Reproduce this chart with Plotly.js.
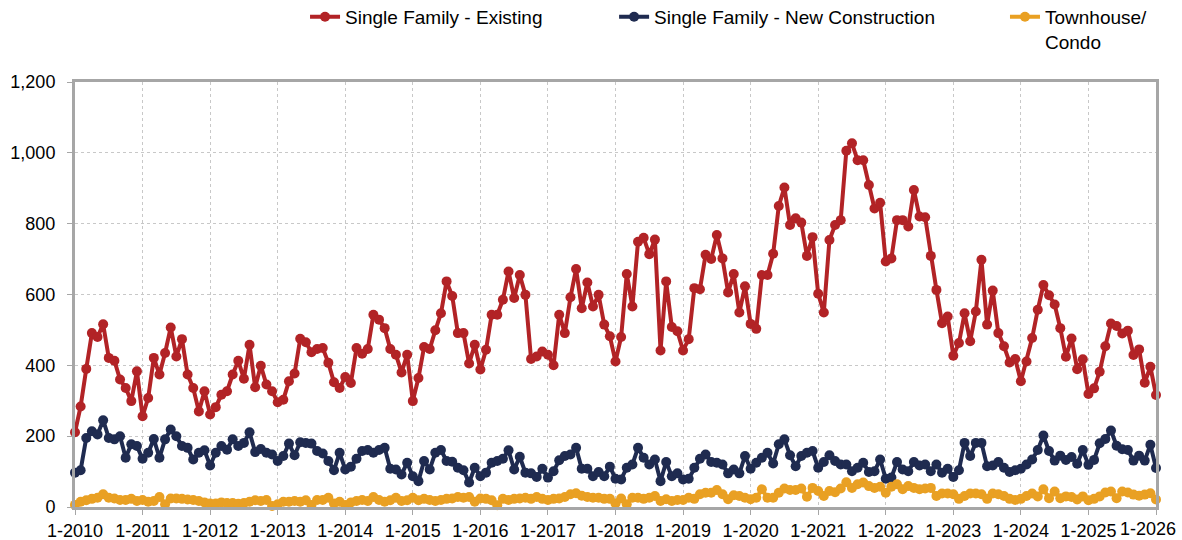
<!DOCTYPE html>
<html>
<head>
<meta charset="utf-8">
<script src="https://cdn.plot.ly/plotly-3.0.1.min.js"></script>
<style>html,body{margin:0;padding:0;background:#fff;}#chart{width:1182px;height:540px;}</style>
</head>
<body>
<div id="chart"></div>
<script>
const seriesNames = ["Single Family - Existing", "Single Family - New Construction", "Townhouse/<br>Condo"];
const tickLabels = ["1-2010","1-2011","1-2012","1-2013","1-2014","1-2015","1-2016","1-2017","1-2018","1-2019","1-2020","1-2021","1-2022","1-2023","1-2024","1-2025","1-2026"];

const existing = [
  211,284,390,491,480,516,421,413,360,336,299,383,
  256,308,421,374,435,507,425,474,374,336,270,327,
  261,282,317,327,374,413,362,458,338,399,346,327,
  296,303,355,377,475,465,437,446,449,407,352,336,
  367,350,449,433,446,543,529,505,446,430,380,430,
  299,364,452,446,499,547,637,596,491,491,405,458,
  388,444,543,543,585,665,590,655,599,418,425,439,
  430,400,543,491,592,672,561,634,566,599,515,482,
  411,480,658,566,749,760,714,755,442,637,508,496,
  442,474,618,615,712,700,768,702,606,658,549,623,
  517,503,655,655,715,850,902,796,815,803,709,762,
  602,549,754,796,810,1006,1027,979,979,909,843,859,
  693,702,810,810,792,895,820,818,709,613,519,538,
  427,463,547,468,552,698,515,611,491,454,408,418,
  355,411,477,557,627,598,572,505,424,476,389,417,
  319,335,382,454,518,511,490,498,429,445,351,396,
  316
];
const newConstruction = [
  97,104,195,214,205,245,195,191,200,139,177,172,
  136,153,192,139,191,219,200,172,167,134,153,160,
  117,153,172,162,191,172,181,211,155,164,153,148,
  130,144,179,146,183,181,179,158,151,130,104,153,
  106,114,136,158,161,153,161,167,108,106,92,125,
  87,73,130,106,153,161,130,128,111,104,69,111,
  87,97,125,130,136,160,106,142,97,95,85,108,
  83,101,132,144,148,167,108,108,87,99,87,114,
  80,78,111,120,167,139,120,134,73,127,87,95,
  78,80,111,136,148,127,125,120,95,106,95,144,
  108,125,139,153,123,177,191,146,115,144,153,158,
  111,127,146,130,120,120,101,111,125,99,101,134,
  80,83,127,106,101,127,117,120,101,120,97,108,
  85,104,181,144,181,181,115,117,127,111,99,104,
  108,120,134,161,202,158,131,145,133,141,122,161,
  119,133,180,192,216,173,163,161,131,145,131,176,
  110
];
const townhouse = [
  6,15,19,23,26,36,26,24,20,20,23,17,
  20,15,17,28,8,24,24,23,21,20,17,13,
  10,10,13,11,11,9,11,15,19,17,20,3,
  8,15,15,17,15,19,6,20,20,26,10,15,
  6,13,17,20,17,28,20,15,19,26,17,19,
  26,19,23,20,17,20,23,24,28,26,28,15,
  24,23,19,5,23,20,23,24,26,23,28,23,
  20,23,24,28,36,39,32,28,26,26,23,23,
  10,24,8,26,26,23,26,31,17,22,17,20,
  20,26,23,36,40,40,48,36,22,33,31,26,
  22,26,50,26,26,40,52,48,48,52,29,54,
  45,31,45,42,52,70,54,64,69,59,54,57,
  40,57,64,50,59,54,50,52,54,31,38,38,
  36,23,31,38,38,36,23,38,36,31,23,20,
  23,31,38,30,50,25,44,25,30,28,21,30,
  19,23,30,41,44,25,44,41,35,32,35,39,
  21
];
const colors = ["#B22326", "#1F2B50", "#E9A023"];

const monthIndex = existing.map((_, i) => i);
const tickVals = tickLabels.map((_, i) => i * 12);
const lastIdx = tickLabels.length - 1;
// the last label is drawn as an annotation so it can be nudged inside the page edge
const tickTextShown = tickLabels.map((t, i) => (i === lastIdx ? "" : t));

function trace(y, i, legendId) {
  return {
    type: "scatter", mode: "lines+markers", name: seriesNames[i],
    x: monthIndex, y: y, legend: legendId,
    line: {color: colors[i], width: 4},
    marker: {color: colors[i], size: 10, symbol: "circle"},
    cliponaxis: false
  };
}
const data = [trace(existing, 0, "legend"), trace(newConstruction, 1, "legend2"), trace(townhouse, 2, "legend3")];

const FONT = "Arial, 'Liberation Sans', Helvetica, sans-serif";
const legendBase = {orientation: "h", yanchor: "top", y: 1.198, xanchor: "left",
  font: {family: FONT, size: 19, color: "#000"}, bgcolor: "rgba(0,0,0,0)", valign: "top", itemwidth: 30};

const layout = {
  width: 1182, height: 540,
  margin: {l: 75, r: 26, t: 82, b: 33, autoexpand: false},
  paper_bgcolor: "#fff", plot_bgcolor: "#fff",
  font: {family: FONT, size: 18, color: "#000"},
  showlegend: true,
  legend: Object.assign({}, legendBase, {x: 0.2128}),
  legend2: Object.assign({}, legendBase, {x: 0.4987}),
  legend3: Object.assign({}, legendBase, {x: 0.8603}),
  xaxis: {
    range: [0, 192], tickmode: "array", tickvals: tickVals, ticktext: tickTextShown,
    showgrid: true, gridcolor: "#c8c8c8", griddash: "dot", gridwidth: 1,
    showline: true, linecolor: "#a6a6a6", linewidth: 3, mirror: true,
    ticks: "outside", ticklen: 5, tickcolor: "#a6a6a6", tickwidth: 1,
    zeroline: false, tickfont: {family: FONT, size: 18, color: "#000"}
  },
  yaxis: {
    range: [0, 1200], tickvals: [0,200,400,600,800,1000,1200],
    ticktext: ["0","200","400","600","800","1,000","1,200"],
    showgrid: true, gridcolor: "#c8c8c8", griddash: "dot", gridwidth: 1,
    showline: true, linecolor: "#a6a6a6", linewidth: 3, mirror: true,
    ticks: "outside", ticklen: 5, tickcolor: "#a6a6a6", tickwidth: 1,
    zeroline: false, ticklabelstandoff: 8, tickfont: {family: FONT, size: 18, color: "#000"}
  },
  annotations: [{
    text: tickLabels[lastIdx], x: tickVals[lastIdx], xref: "x", y: 0, yref: "paper",
    xanchor: "right", yanchor: "middle", xshift: 22, yshift: -22, showarrow: false,
    font: {family: FONT, size: 18, color: "#000"}
  }]
};

Plotly.newPlot("chart", data, layout, {displayModeBar: false, staticPlot: true});
</script>
</body>
</html>
